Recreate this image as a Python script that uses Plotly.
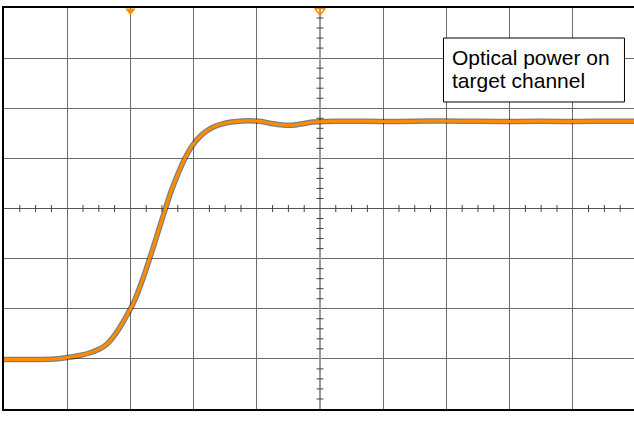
import plotly.graph_objects as go

# Time axis in microseconds (0 = screen centre, 500 us/div), signal in vertical divisions (0 = centre)
time_us = [-2500, -2298, -2100, -1998, -1903, -1824, -1745, -1689, -1642, -1602,
           -1562, -1531, -1494, -1460, -1428, -1388, -1349, -1317, -1286, -1254,
           -1222, -1191, -1151, -1119, -1088, -1048, -1009, -953, -897, -835,
           -771, -700, -613, -518, -463, -384, -297, -202, -123, -59,
           36, 233, 471, 629, 866, 1103, 1420, 1736, 2052, 2290, 2500]
signal_div = [-3.012, -3.012, -3.002, -2.973, -2.933, -2.883, -2.803, -2.713, -2.584, -2.444,
              -2.284, -2.145, -1.975, -1.796, -1.586, -1.307, -1.007, -0.758, -0.509, -0.249,
              0.000, 0.249, 0.519, 0.718, 0.898, 1.097, 1.257, 1.426, 1.546, 1.636,
              1.690, 1.726, 1.746, 1.746, 1.736, 1.696, 1.666, 1.666, 1.696, 1.726,
              1.736, 1.742, 1.736, 1.736, 1.746, 1.742, 1.736, 1.740, 1.736, 1.742, 1.740]

trigger_pos_us = [-1500]
trigger_ref_us = [0]

label_box = "Optical power on"
label_box2 = "target channel"
label_bottom = "500 us/div"

ORANGE = "#FF8C00"
FONT = "Liberation Sans, Arial, sans-serif"
GRID = "#6c6c6c"

fig = go.Figure()

# crosshair minor ticks
v_ticks = [k / 5 for k in range(-20, 21) if k % 5 != 0]
h_ticks = [k * 125 for k in range(-20, 21) if k % 4 != 0]
fig.add_trace(go.Scatter(x=[0] * len(v_ticks), y=v_ticks, mode="markers",
                         marker=dict(symbol="line-ew", size=5, line=dict(color="#444", width=1)),
                         hoverinfo="skip"))
fig.add_trace(go.Scatter(x=h_ticks, y=[0] * len(h_ticks), mode="markers",
                         marker=dict(symbol="line-ns", size=5, line=dict(color="#444", width=1)),
                         hoverinfo="skip"))

# noisy dark envelope + orange trace
fig.add_trace(go.Scatter(x=time_us, y=signal_div, mode="lines",
                         line=dict(color="rgba(0,0,0,0.5)", width=5.5, shape="spline", smoothing=0.4)))
fig.add_trace(go.Scatter(x=time_us, y=signal_div, mode="lines",
                         line=dict(color=ORANGE, width=3, shape="spline", smoothing=0.4)))

# trigger markers
fig.add_trace(go.Scatter(x=trigger_pos_us, y=[3.945], mode="markers",
                         marker=dict(symbol="triangle-down", size=9, color=ORANGE, line=dict(width=0))))
fig.add_trace(go.Scatter(x=trigger_ref_us, y=[3.945], mode="markers",
                         marker=dict(symbol="triangle-down-open", size=9, color=ORANGE,
                                     line=dict(color=ORANGE, width=1.5))))

fig.add_shape(type="rect", x0=977, x1=2409, y0=2.125, y1=3.401, xref="x", yref="y",
              fillcolor="white", line=dict(color="black", width=1), layer="above")
fig.add_annotation(x=1032, y=3.012, text=label_box, showarrow=False, xanchor="left", yanchor="middle",
                   font=dict(family=FONT, size=21, color="black"))
fig.add_annotation(x=1032, y=2.544, text=label_box2, showarrow=False, xanchor="left", yanchor="middle",
                   font=dict(family=FONT, size=21, color="black"))
fig.add_annotation(x=15, y=-4.369, text=label_bottom, showarrow=False, xanchor="center", yanchor="middle",
                   font=dict(family=FONT, size=21, color="black"))

fig.update_layout(
    width=650, height=441,
    margin=dict(l=4, r=0, t=8, b=32),
    paper_bgcolor="white", plot_bgcolor="white",
    showlegend=False,
    hovermode=False,
    xaxis=dict(range=[-2500, 2611], dtick=500, tick0=0, showgrid=True, gridcolor=GRID, gridwidth=1.3,
               zeroline=True, zerolinecolor="#9a9a9a", zerolinewidth=2,
               showline=True, linecolor="black", linewidth=1.5, mirror=True,
               showticklabels=False, ticks="", fixedrange=True),
    yaxis=dict(range=[-4, 4], dtick=1, tick0=0, showgrid=True, gridcolor=GRID, gridwidth=1.3,
               zeroline=True, zerolinecolor="#555555", zerolinewidth=1.3,
               showline=True, linecolor="black", linewidth=1.5, mirror=False,
               showticklabels=False, ticks="", fixedrange=True),
)

fig.write_html("out.html", config={"displayModeBar": False},
               post_script="document.body.style.margin='0px';"
                           "document.body.style.overflow='hidden';"
                           "document.documentElement.style.overflow='hidden';")
